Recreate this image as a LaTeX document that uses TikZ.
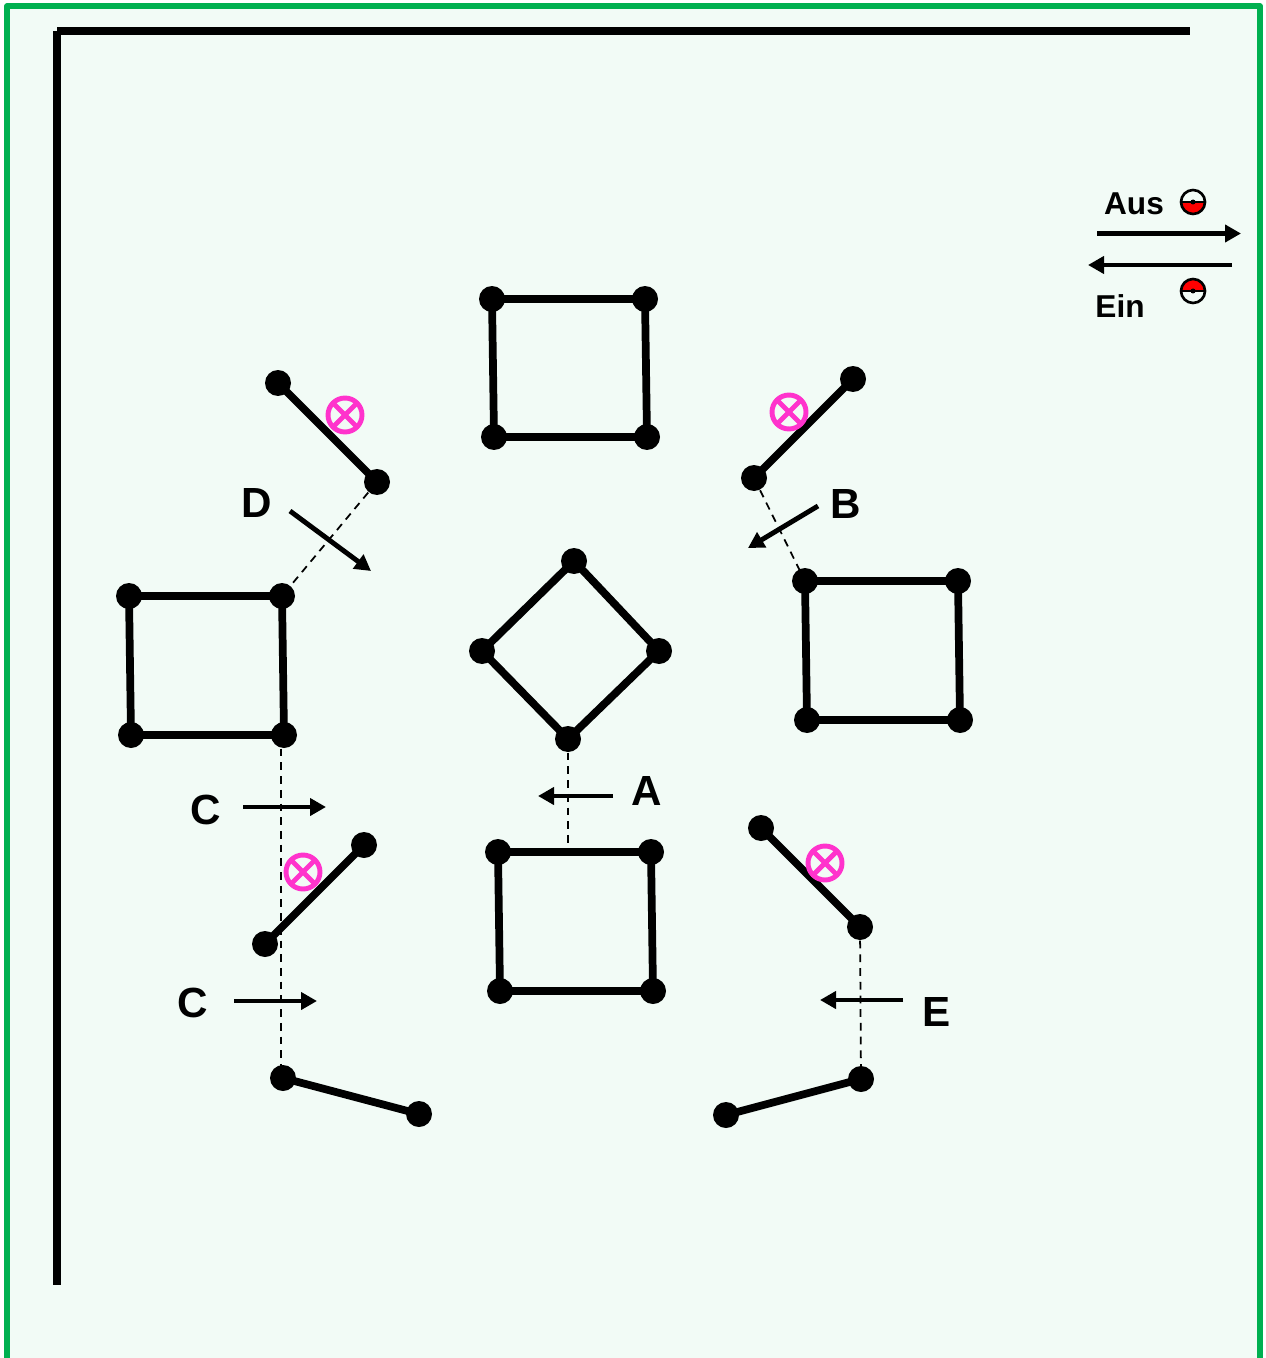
\documentclass[tikz,border=0pt]{standalone}
\usepackage{fontspec}
\setmainfont{Liberation Sans}
\usetikzlibrary{arrows.meta}
\definecolor{framegreen}{HTML}{00B050}
\definecolor{paneltint}{HTML}{F2FBF6}
\definecolor{valvepink}{HTML}{FF33CC}
\tikzset{
  dot/.style={circle, fill=black, inner sep=0pt, minimum size=0.52cm},
  bar/.style={line width=4.4pt, line join=round},
  wall/.style={line width=4.6pt},
  link/.style={dashed, line width=1pt, dash pattern=on 4.4pt off 3.4pt},
  flow/.style={line width=2.8pt, -{Triangle[length=0.32cm,width=0.34cm]}},
  tag/.style={font=\bfseries\fontsize{24}{28}\selectfont, inner sep=0pt},
  legendtag/.style={font=\bfseries\fontsize{18}{22}\selectfont, inner sep=0pt},
  valve/.style={circle, draw=valvepink, line width=2.8pt, inner sep=0pt, minimum size=0.68cm,
    path picture={
      \draw[valvepink, line width=2.8pt]
        (path picture bounding box.north west) -- (path picture bounding box.south east)
        (path picture bounding box.south west) -- (path picture bounding box.north east);
    }},
}
\begin{document}
\begin{tikzpicture}[x=0.02cm, y=-0.02cm]
\useasboundingbox (0,0) rectangle (1266,1358);

% Panel and frame
\fill[paneltint] (7,6) rectangle (1260,1358);
\draw[framegreen, line width=3pt, line join=round] (7,1358) -- (7,6) -- (1260,6) -- (1260,1358);

% Walls
\coordinate (wallcorner) at (57,31);
\coordinate (wallright) at (1190,31);
\coordinate (wallbottom) at (57,1285);
\draw[wall] (wallcorner) -- (wallright);
\draw[wall] (wallcorner) -- (wallbottom);

% Terminal dots
\foreach \name/\x/\y in {ta/492/299, tb/645/299, tc/647/437, td/494/437,
                         la/129/596, lb/282/596, lc/284/735, ld/131/735,
                         ra/805/581, rb/958/581, rc/960/720, rd/807/720,
                         ba/498/852, bb/651/852, bc/653/991, bd/500/991,
                         ma/574/561, mb/659/651, mc/568/739, md/482/651,
                         pa/278/383, pb/377/482, qa/853/379, qb/754/478,
                         sa/364/845, sb/265/944, ua/761/828, ub/860/927,
                         va/283/1078, vb/419/1114, wa/861/1079, wb/726/1115} {
    \node[dot] (\name) at (\x,\y) {};
}

% Squares and diamond
\foreach \a/\b/\c/\d in {ta/tb/tc/td, la/lb/lc/ld, ra/rb/rc/rd, ba/bb/bc/bd, ma/mb/mc/md} {
    \draw[bar] (\a.center) -- (\b.center) -- (\c.center) -- (\d.center) -- cycle;
}

% Single bars
\foreach \a/\b in {pa/pb, qa/qb, sa/sb, ua/ub, va/vb, wa/wb} {
    \draw[bar] (\a.center) -- (\b.center);
}

% Dashed links
\coordinate (cltop) at (281,735);
\coordinate (clbottom) at (281,1078);
\draw[link] (pb.center) -- (lb.center);
\draw[link] (qb.center) -- (ra.center);
\draw[link] (mc.center) -- (mc.center |- ba.center);
\draw[link] (cltop) -- (clbottom);
\draw[link] (ub.center) -- (wa.center);

% Valves
\node[valve] (vpa) at (345,415) {};
\node[valve] (vqa) at (789,412) {};
\node[valve] (vsa) at (303,872) {};
\node[valve] (vua) at (825,863) {};

% Flow arrows and labels
\foreach \name/\xa/\ya/\xb/\yb in {fd/290/511/371/571, fb/818/506/748/548, fa/613/796/538/796,
                                   fc/243/807/326/807, fg/234/1001/317/1001, fe/903/1000/820/1000} {
    \coordinate (\name s) at (\xa,\ya);
    \coordinate (\name t) at (\xb,\yb);
    \draw[flow] (\name s) -- (\name t);
}
\node[tag] (labd) at (257,503) {D};
\node[tag] (labb) at (846,504) {B};
\node[tag] (laba) at (647,791) {A};
\node[tag] (labc) at (206,810) {C};
\node[tag] (labg) at (193,1003) {C};
\node[tag] (labe) at (937,1012) {E};

% Legend
\coordinate (ausa) at (1097,233.5);
\coordinate (ausb) at (1241,233.5);
\coordinate (eina) at (1232,265);
\coordinate (einb) at (1088,265);
\draw[flow] (ausa) -- (ausb);
\draw[flow] (eina) -- (einb);
\node[legendtag] (labaus) at (1134,203.5) {Aus};
\node[legendtag] (labein) at (1120,306) {Ein};

% Half filled balls
\fill[red] (1181,202) arc[start angle=180, end angle=0, radius=12];
\fill[red] (1181,291) arc[start angle=180, end angle=360, radius=12];
\foreach \y in {202, 291} {
    \draw[line width=1.5pt] (1193,\y) circle[radius=12];
    \draw[line width=1.5pt] (1181,\y) -- (1205,\y);
    \fill (1193,\y) circle[radius=2.5];
}

\end{tikzpicture}
\end{document}
